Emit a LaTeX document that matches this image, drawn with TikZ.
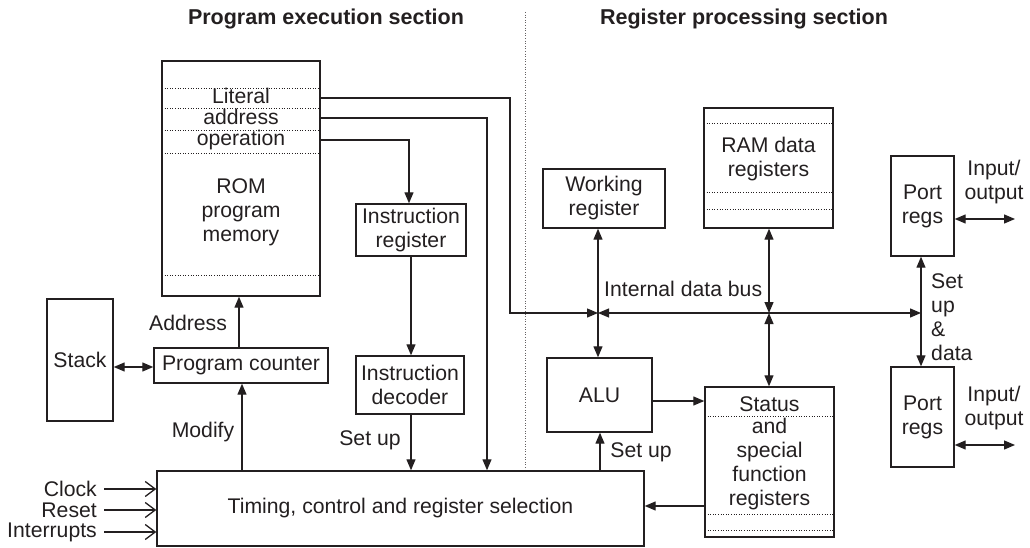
\documentclass[tikz,border=0pt]{standalone}
\usepackage{fontspec}
\setmainfont{Liberation Sans}
\usetikzlibrary{arrows.meta}
\definecolor{ink}{HTML}{231F20}
\newcommand\bfs{\fontsize{21.2}{24}\selectfont}
\newcommand\tightfs{\fontsize{21.2}{21}\selectfont}
\newcommand\tfs{\fontsize{21.5}{24}\selectfont\bfseries}
\begin{document}
\begin{tikzpicture}[x=1pt,y=-1pt,
  every node/.style={text=ink},
  box/.style={draw=ink, line width=1.4pt, inner sep=0pt, align=center, font=\bfs},
  lbl/.style={inner sep=0pt, align=center, font=\bfs},
  ttl/.style={inner sep=0pt, font=\tfs},
  wire/.style={draw=ink, line width=1.25pt},
  arr/.style={wire, -{Triangle[length=11pt,width=9pt]}},
  darr/.style={wire, {Triangle[length=11pt,width=9pt]}-{Triangle[length=11pt,width=9pt]}},
  barb/.style={wire, -{Straight Barb[length=10pt,width=15pt,line width=1.3pt]}},
  dots/.style={draw=ink, dotted, line width=0.6pt}]
\useasboundingbox (0,0) rectangle (1030,548);

% titles and divider
\node[ttl] (t1) at (326,19) {Program execution section};
\node[ttl] (t2) at (744,19) {Register processing section};
\draw[dots, draw=ink!70] (525,12) -- (525,471);

% ROM
\node[box, minimum width=158pt, minimum height=235pt] (rom) at (241,178.5) {};
\foreach \yy in {88,108,130,153,275} \draw[dots] (162,\yy) -- (320,\yy);
\node[lbl, font=\tightfs] (fields) at (241,119) {Literal\\address\\operation};
\node[lbl] (romt) at (241,212) {ROM\\program\\memory};

% program side boxes
\node[box, minimum width=110pt, minimum height=52pt] (ir) at (411,230) {Instruction\\register};
\node[box, minimum width=108pt, minimum height=58pt] (id) at (410,385) {Instruction\\decoder};
\node[box, minimum width=174pt, minimum height=35pt] (pc) at (241,365.5) {Program counter};
\node[box, minimum width=66pt, minimum height=122pt] (stack) at (80,360) {Stack};
\node[box, minimum width=487pt, minimum height=75pt] (tim) at (400.5,508.5) {Timing, control and register selection};

% register side boxes
\node[box, minimum width=122pt, minimum height=59pt] (wr) at (604,198.5) {Working\\register};
\node[box, minimum width=129pt, minimum height=120pt] (ram) at (768.5,168) {};
\foreach \yy in {123,192,209} \draw[dots] (704,\yy) -- (833,\yy);
\node[lbl] (ramt) at (768.5,159) {RAM data\\registers};
\node[box, minimum width=105pt, minimum height=74pt] (alu) at (599.5,395) {ALU};
\node[box, minimum width=129pt, minimum height=150pt] (st) at (769.5,462) {};
\foreach \yy in {416,514,530} \draw[dots] (705,\yy) -- (834,\yy);
\node[lbl] (stt) at (769.5,404) {Status};
\node[lbl] (sft) at (769.5,464) {and\\special\\function\\registers};
\node[box, minimum width=63pt, minimum height=100pt] (p1) at (922.5,206) {Port\\regs};
\node[box, minimum width=63pt, minimum height=100pt] (p2) at (922.5,417) {Port\\regs};

% junctions
\coordinate (jw) at (598,313);
\coordinate (jr) at (769,313);
\coordinate (jp) at (921,313);
\coordinate (io1) at (1015,219);
\coordinate (io2) at (1015,445);

% ROM outputs
\draw[arr] (rom.east |- 0,98) -| (510,313) -- (jw);
\draw[arr] (rom.east |- 0,118) -| (tim.north -| 487,0);
\draw[arr] (rom.east |- 0,140) -| (ir.north -| 409,0);

% program side connectors
\draw[arr] (ir.south -| 411,0) -- (id.north -| 411,0);
\draw[arr] (id.south -| 411,0) -- (tim.north -| 411,0);
\node[lbl] (su1) at (370,440) {Set up};
\draw[arr] (pc.north -| 239,0) -- (rom.south -| 239,0);
\node[lbl] (adl) at (188,323) {Address};
\draw[arr] (tim.north -| 242,0) -- (pc.south -| 242,0);
\node[lbl] (mod) at (203,432) {Modify};
\draw[darr] (stack.east |- 0,367) -- (pc.west |- 0,367);

% inputs
\node[lbl, anchor=east] (clk) at (97,489) {Clock};
\node[lbl, anchor=east] (rst) at (97,510) {Reset};
\node[lbl, anchor=east] (irq) at (97,532) {Interrupts};
\draw[barb] (clk.east) ++(7,0) -- (tim.west |- clk.east);
\draw[barb] (rst.east) ++(7,0) -- (tim.west |- rst.east);
\draw[barb] (irq.east) ++(7,0) -- (tim.west |- irq.east);

% bus
\draw[darr] (jw) -- (jp);
\node[lbl, anchor=west] (busl) at (604,289) {Internal data bus};
\draw[darr] (wr.south -| jw) -- (alu.north -| jw);
\draw[darr] (ram.south -| jr) -- (jr);
\draw[darr] (jr) -- (st.north -| jr);

% register side connectors
\draw[arr] (alu.east |- 0,401) -- (st.west |- 0,401);
\draw[arr] (st.west |- 0,506) -- (tim.east |- 0,506);
\draw[arr] (tim.north -| 600,0) -- (alu.south -| 600,0);
\node[lbl] (su2) at (641,452) {Set up};

% ports
\draw[darr] (p1.south -| jp) -- (p2.north -| jp);
\node[lbl, anchor=west, align=left] (sud) at (931,317) {Set\\up\\\&\\data};
\draw[darr] (p1.east |- io1) -- (io1);
\draw[darr] (p2.east |- io2) -- (io2);
\node[lbl] (io1t) at (994,182) {Input/\\output};
\node[lbl] (io2t) at (994,408) {Input/\\output};
\end{tikzpicture}
\end{document}
